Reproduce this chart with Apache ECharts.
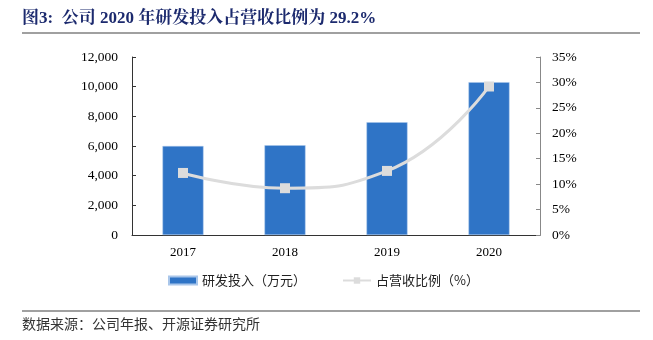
<!DOCTYPE html>
<html><head><meta charset="utf-8">
<script src="https://cdn.jsdelivr.net/npm/echarts@6/dist/echarts.min.js"></script>
<style>html,body{margin:0;padding:0;background:#fff}#c{width:653px;height:340px}</style>
</head><body><div id="c"></div>
<script>
const categories = ['2017', '2018', '2019', '2020'];
const rdInvest = [6000, 6050, 7600, 10300];
const rdRatio = [12.2, 9.2, 12.6, 29.2];
const leftTicks = [0, 2000, 4000, 6000, 8000, 10000, 12000];
const rightTicks = [0, 5, 10, 15, 20, 25, 30, 35];

const chart = echarts.init(document.getElementById('c'));
const serif = '"Liberation Serif", "Noto Serif CJK SC", serif';
chart.setOption({
  animation: false,
  grid: {left: 132, right: 113, top: 57, bottom: 105},
  graphic: [
    {type: 'text', left: 22, top: 10, style: {text: '图3:  公司 2020 年研发投入占营收比例为 29.2%', font: 'bold 17px "Liberation Serif","Noto Serif CJK SC","Noto Sans CJK SC",serif', fill: '#1c2a6e'}},
    {type: 'line', shape: {x1: 22, y1: 33, x2: 640, y2: 33}, style: {stroke: '#808080', lineWidth: 1.5}},
    {type: 'line', shape: {x1: 22, y1: 311, x2: 640, y2: 311}, style: {stroke: '#808080', lineWidth: 1.5}},
    {type: 'text', left: 22, top: 317, style: {text: '数据来源：公司年报、开源证券研究所', font: '14px "Noto Sans CJK SC",sans-serif', fill: '#333'}}
  ],
  legend: {
    bottom: 48, left: 163, itemGap: 36, itemWidth: 28, itemHeight: 8,
    textStyle: {fontFamily: '"Noto Sans CJK SC",sans-serif', fontSize: 13, color: '#222'},
    data: [{name: '研发投入（万元）', icon: 'rect'}, {name: '占营收比例（%）'}]
  },
  xAxis: {
    type: 'category', data: categories,
    axisLine: {lineStyle: {color: '#333'}},
    axisTick: {inside: true, length: 4, lineStyle: {color: '#333'}},
    axisLabel: {fontFamily: serif, fontSize: 13, color: '#000', margin: 11}
  },
  yAxis: [
    {type: 'value', min: 0, max: 12000, interval: 2000, splitLine: {show: false},
     axisLine: {show: true, lineStyle: {color: '#333'}},
     axisTick: {show: true, inside: true, length: 4, lineStyle: {color: '#333'}},
     axisLabel: {fontFamily: serif, fontSize: 13.5, color: '#000', margin: 14,
       formatter: v => v.toLocaleString('en-US')}},
    {type: 'value', min: 0, max: 35, interval: 5, splitLine: {show: false},
     axisLine: {show: true, lineStyle: {color: '#888'}},
     axisTick: {show: true, inside: true, length: 4, lineStyle: {color: '#888'}},
     axisLabel: {fontFamily: serif, fontSize: 13.5, color: '#000', margin: 12, formatter: '{value}%'}}
  ],
  series: [
    {name: '研发投入（万元）', type: 'bar', data: rdInvest, barWidth: 41,
     itemStyle: {color: '#2f74c6', borderColor: '#a9c6ea', borderWidth: 0.5}},
    {name: '占营收比例（%）', type: 'line', yAxisIndex: 1, data: rdRatio, smooth: 0.5,
     symbol: 'rect', symbolSize: 10,
     lineStyle: {color: '#dcdcdc', width: 3},
     itemStyle: {color: '#dcdcdc'}}
  ]
});
</script></body></html>
